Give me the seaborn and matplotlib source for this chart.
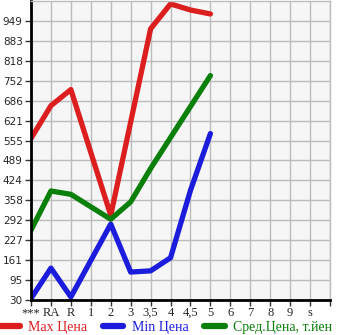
import numpy as np
import pandas as pd
import matplotlib
matplotlib.use("Agg")
import matplotlib.pyplot as plt
import seaborn as sns
from matplotlib.lines import Line2D

categories = ["***", "RA", "R", "1", "2", "3", "3,5", "4", "4,5", "5", "6", "7", "8", "9", "s"]
max_price = [562, 670, 723, np.nan, 309, np.nan, 923, 1005, 985, 972, np.nan, np.nan, np.nan, np.nan, np.nan]
min_price = [35, 135, 40, np.nan, 280, 122, 126, 169, 391, 578, np.nan, np.nan, np.nan, np.nan, np.nan]
avg_price = [260, 389, 378, np.nan, 296, 353, 463, 565, 667, 769, np.nan, np.nan, np.nan, np.nan, np.nan]
y_tick_labels = ["30", "95", "161", "227", "292", "358", "424", "489", "555", "621", "686", "752", "818", "883", "949"]
series_names = ["Max Цена", "Min Цена", "Сред.Цена, т.йен"]
colors = ["#dc1e1e", "#1c1cdc", "#0a800a"]

sns.set_style("white")
fig = plt.figure(figsize=(3.45, 3.35), dpi=100)
ax = fig.add_axes([31/345, 1 - 300/335, 299/345, 299/335])
ax.set_facecolor("#f6f6f6")

pos = np.arange(len(categories))
for vals, c in zip([max_price, min_price, avg_price], colors):
    df = pd.DataFrame({"x": pos, "y": vals}).dropna()
    sns.lineplot(data=df, x="x", y="y", ax=ax, color=c, linewidth=3.8,
                 solid_capstyle="round", solid_joinstyle="round", legend=False)

y0, y1 = 30.0, 949.0
step = (y1 - y0) / 14
yt = [y0 + i * step for i in range(15)]
ax.set_ylim(y0, y1 + step)
ax.set_xlim(0, 15)
ax.set_yticks(yt)
ax.set_yticklabels(y_tick_labels, fontsize=7.5, family="DejaVu Sans")
ax.set_xticks(list(range(16)))
ax.set_xticklabels(categories + [""], fontsize=9, family="Liberation Serif")
ax.grid(True, color="#bcbcbc", linewidth=1.0)
ax.set_axisbelow(True)
ax.set_xlabel("")
ax.set_ylabel("")
for s in ["top", "right"]:
    ax.spines[s].set_color("#bcbcbc")
    ax.spines[s].set_linewidth(1.0)
for s in ["left", "bottom"]:
    ax.spines[s].set_color("black")
    ax.spines[s].set_linewidth(2.0)
ax.tick_params(axis="y", length=4, width=1, color="#333333", pad=2, direction="out", left=True)
ax.tick_params(axis="x", length=4, width=1, color="#333333", pad=1, direction="out", bottom=True)

handles = [Line2D([0], [0], color=c, linewidth=4.5, solid_capstyle="round") for c in colors]
leg = fig.legend(handles, series_names, loc="center", bbox_to_anchor=(0.48, 0.022),
                 ncol=3, frameon=False, prop={"family": "Liberation Serif", "size": 10},
                 handlelength=1.5, handletextpad=0.6, columnspacing=1.1,
                 borderpad=0, borderaxespad=0)
for t, c in zip(leg.get_texts(), colors):
    t.set_color(c)

fig.savefig("out.png", dpi=100)
